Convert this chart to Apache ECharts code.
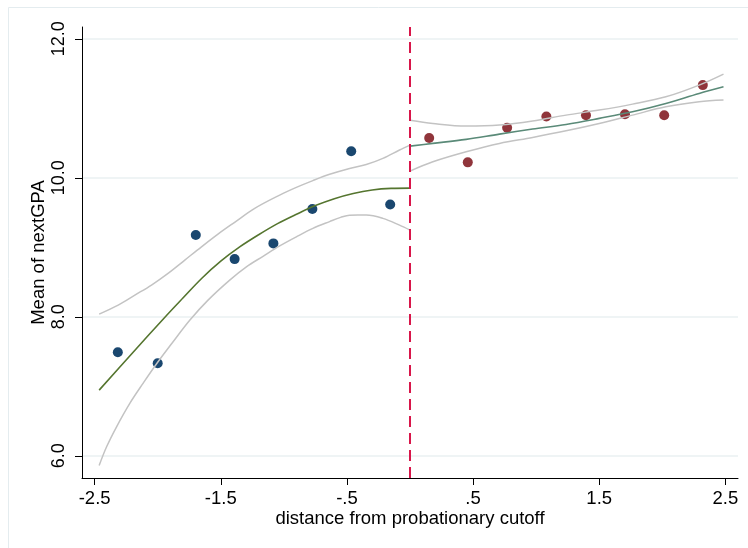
<!DOCTYPE html>
<html>
<head>
<meta charset="utf-8">
<script src="https://cdn.jsdelivr.net/npm/echarts@6/dist/echarts.min.js"></script>
<style>html,body{margin:0;padding:0;background:#fff;}#c{width:748px;height:548px;}</style>
</head>
<body>
<div id="c"></div>
<script>
// Binned means
const leftBinX = [-2.316, -2.0, -1.698, -1.39, -1.083, -0.774, -0.466, -0.157];
const leftBinY = [7.49, 7.33, 9.176, 8.83, 9.056, 9.552, 10.382, 9.617];
const rightBinX = [0.152, 0.458, 0.770, 1.081, 1.395, 1.704, 2.015, 2.321];
const rightBinY = [10.573, 10.222, 10.72, 10.883, 10.9, 10.914, 10.9, 11.334];

// Left fit
const leftFitX = [-2.464, -2.2, -1.95, -1.8, -1.65, -1.5, -1.35, -1.2, -1.05, -0.9, -0.75, -0.6, -0.45, -0.3, -0.15, 0];
const leftFitY = [6.945, 7.48, 7.98, 8.27, 8.555, 8.80, 9.005, 9.18, 9.34, 9.475, 9.60, 9.70, 9.775, 9.825, 9.848, 9.852];
// Left confidence band
const leftHiX = [-2.464, -2.313, -2.181, -2.049, -1.918, -1.785, -1.653, -1.522, -1.39, -1.231, -1.033, -0.901, -0.77, -0.637, -0.479, -0.347, -0.215, -0.083, 0];
const leftHiY = [8.039, 8.168, 8.312, 8.456, 8.624, 8.816, 9.007, 9.19, 9.36, 9.56, 9.751, 9.862, 9.96, 10.05, 10.135, 10.19, 10.279, 10.40, 10.471];
const leftLoX = [-2.464, -2.405, -2.326, -2.221, -2.116, -2.01, -1.878, -1.746, -1.601, -1.429, -1.297, -1.165, -1.033, -0.901, -0.77, -0.637, -0.55, -0.479, -0.347, -0.215, -0.083, 0];
const leftLoY = [5.86, 6.129, 6.417, 6.754, 7.042, 7.32, 7.64, 7.95, 8.24, 8.528, 8.719, 8.87, 9.02, 9.151, 9.272, 9.37, 9.43, 9.462, 9.463, 9.416, 9.319, 9.248];

// Right fit and confidence band
const rightFitX = [0, 0.181, 0.445, 0.709, 0.972, 1.237, 1.5, 1.764, 2.028, 2.292, 2.485];
const rightFitY = [10.456, 10.495, 10.553, 10.629, 10.701, 10.768, 10.855, 10.95, 11.07, 11.214, 11.309];
const rightHiY  = [10.829, 10.782, 10.744, 10.758, 10.816, 10.902, 10.974, 11.06, 11.165, 11.334, 11.492];
const rightLoY  = [10.096, 10.23, 10.374, 10.495, 10.581, 10.676, 10.782, 10.902, 11.022, 11.094, 11.118];

const cutoff = [0];
const xTicks = [-2.5, -1.5, -0.5, 0.5, 1.5, 2.5];
const xTickLabels = ['-2.5', '-1.5', '-.5', '.5', '1.5', '2.5'];
const yTicks = [6, 8, 10, 12];
const yTickLabels = ['6.0', '8.0', '10.0', '12.0'];

const pairs = (xs, ys) => xs.map((x, i) => [x, ys[i]]);
const FONT = 'Liberation Sans';

const chart = echarts.init(document.getElementById('c'), null, {renderer: 'canvas'});
const lineBase = (data, color, width, z) => ({
  type: 'line', data, showSymbol: false, symbol: 'none', smooth: 0.35,
  lineStyle: {color, width}, z, silent: true, animation: false
});

chart.setOption({
  animation: false,
  backgroundColor: '#ffffff',
  graphic: [{
    type: 'rect', shape: {x: 8.5, y: 7.5, width: 760, height: 560},
    style: {fill: 'none', stroke: '#e4ecef', lineWidth: 1}, z: -10, silent: true
  }],
  grid: {left: 82, right: 10, top: 27, bottom: 70},
  xAxis: {
    type: 'value', min: -2.6, max: 2.6,
    name: 'distance from probationary cutoff', nameLocation: 'middle', nameGap: 31,
    nameMoveOverlap: false,
    nameTextStyle: {fontFamily: FONT, fontSize: 18.5, color: '#000'},
    axisLine: {show: true, onZero: false, lineStyle: {color: '#000', width: 1}},
    axisTick: {show: true, length: 7, customValues: xTicks, lineStyle: {color: '#000'}},
    axisLabel: {
      customValues: xTicks, margin: 11, fontFamily: FONT, fontSize: 18.5, color: '#000',
      formatter: v => { const i = xTicks.findIndex(t => Math.abs(t - v) < 1e-6); return i >= 0 ? xTickLabels[i] : ''; }
    },
    splitLine: {show: false}
  },
  yAxis: {
    type: 'value', min: 5.68, max: 12.17,
    name: 'Mean of nextGPA', nameLocation: 'middle', nameGap: 34, nameRotate: 90,
    nameMoveOverlap: false,
    nameTextStyle: {fontFamily: FONT, fontSize: 18.5, color: '#000'},
    axisLine: {show: true, onZero: false, lineStyle: {color: '#000', width: 1}},
    axisTick: {show: true, length: 7, customValues: yTicks, lineStyle: {color: '#000'}},
    axisLabel: {
      customValues: yTicks, rotate: 90, margin: 14, fontFamily: FONT, fontSize: 18, color: '#000',
      formatter: v => { const i = yTicks.findIndex(t => Math.abs(t - v) < 1e-6); return i >= 0 ? yTickLabels[i] : ''; }
    },
    splitLine: {show: true, customValues: yTicks, lineStyle: {color: '#eaf0f2', width: 1.5}}
  },
  series: [
    {type: 'scatter', data: pairs(leftBinX, leftBinY), symbolSize: 10, itemStyle: {color: '#1a476f', opacity: 1}, z: 2},
    {type: 'scatter', data: pairs(rightBinX, rightBinY), symbolSize: 10, itemStyle: {color: '#90353b', opacity: 1}, z: 2},
    lineBase(pairs(leftHiX, leftHiY), '#c3c3c3', 1.5, 3),
    lineBase(pairs(leftLoX, leftLoY), '#c3c3c3', 1.5, 3),
    lineBase(pairs(rightFitX, rightHiY), '#c3c3c3', 1.5, 3),
    lineBase(pairs(rightFitX, rightLoY), '#c3c3c3', 1.5, 3),
    lineBase(pairs(leftFitX, leftFitY), '#55752f', 1.6, 4),
    lineBase(pairs(rightFitX, rightFitY), '#5a8a78', 1.6, 4),
    {
      type: 'line', data: [], z: 5,
      markLine: {
        silent: true, symbol: ['none', 'none'], label: {show: false},
        lineStyle: {color: '#d8164a', width: 2, type: [11, 6]},
        data: cutoff.map(c => ({xAxis: c}))
      }
    }
  ]
});
</script>
</body>
</html>
